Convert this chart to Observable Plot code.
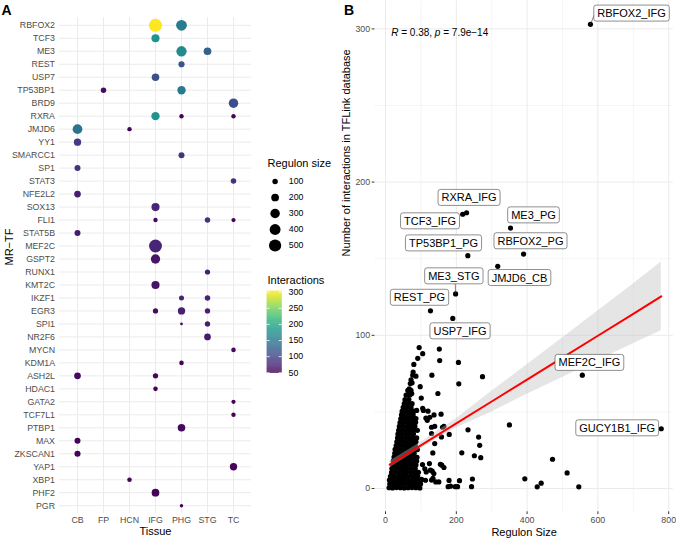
<!DOCTYPE html>
<html><head><meta charset="utf-8">
<script src="https://cdn.jsdelivr.net/npm/d3@7"></script>
<script src="https://cdn.jsdelivr.net/npm/@observablehq/plot@0.6"></script>
<style>
body{margin:0;background:#fff;}
#wrap{position:relative;width:676px;height:538px;overflow:hidden;background:#fff;}
#wrap svg{position:absolute;}
</style></head><body><div id="wrap"></div>
<script>
const FONT = '"Liberation Sans", Arial, Helvetica, sans-serif';

// ---------- Panel A data ----------
const tissues = ["CB","FP","HCN","IFG","PHG","STG","TC"];
const mrTFs = ["RBFOX2","TCF3","ME3","REST","USP7","TP53BP1","BRD9","RXRA","JMJD6","YY1","SMARCC1","SP1","STAT3","NFE2L2","SOX13","FLI1","STAT5B","MEF2C","GSPT2","RUNX1","KMT2C","IKZF1","EGR3","SPI1","NR2F6","MYCN","KDM1A","ASH2L","HDAC1","GATA2","TCF7L1","PTBP1","MAX","ZKSCAN1","YAP1","XBP1","PHF2","PGR"];
// [MR-TF, tissue, regulon size, interactions]
const dotsA = [
  ["RBFOX2","IFG",579,303],["RBFOX2","PHG",390,153],
  ["TCF3","IFG",218,179],
  ["ME3","PHG",353,170],["ME3","STG",198,127],
  ["REST","PHG",127,116],
  ["USP7","IFG",190,111],
  ["TP53BP1","FP",100,56],["TP53BP1","PHG",232,152],
  ["BRD9","TC",300,108],
  ["RXRA","IFG",229,180],["RXRA","PHG",65,50],["RXRA","TC",65,52],
  ["JMJD6","CB",317,145],["JMJD6","HCN",65,50],
  ["YY1","CB",180,92],
  ["SMARCC1","PHG",120,85],
  ["SP1","CB",120,85],
  ["STAT3","TC",100,82],
  ["NFE2L2","CB",150,68],
  ["SOX13","IFG",220,75],
  ["FLI1","IFG",65,55],["FLI1","STG",100,85],["FLI1","TC",60,50],
  ["STAT5B","CB",120,65],
  ["MEF2C","IFG",556,74],
  ["GSPT2","IFG",290,62],
  ["RUNX1","STG",90,70],
  ["KMT2C","IFG",220,60],
  ["IKZF1","PHG",85,72],["IKZF1","STG",100,72],
  ["EGR3","IFG",90,55],["EGR3","PHG",180,70],["EGR3","STG",95,70],
  ["SPI1","PHG",25,55],["SPI1","STG",95,68],
  ["NR2F6","STG",150,65],
  ["MYCN","TC",70,55],
  ["KDM1A","PHG",70,50],
  ["ASH2L","CB",150,55],["ASH2L","IFG",95,52],
  ["HDAC1","IFG",70,50],
  ["GATA2","TC",60,50],
  ["TCF7L1","TC",65,50],
  ["PTBP1","PHG",190,55],
  ["MAX","CB",120,50],
  ["ZKSCAN1","CB",125,50],
  ["YAP1","TC",180,52],
  ["XBP1","HCN",70,50],
  ["PHF2","IFG",200,50],
  ["PGR","PHG",40,50]
];
const sizeBreaks = [100,200,300,400,500];
const colorBreaks = [50,100,150,200,250,300];

// ---------- Panel B data ----------
// labelled points [name, regulon size, interactions]
const labeledB = [
  ["RBFOX2_IFG",579,303],["RXRA_IFG",229,180],["TCF3_IFG",218,179],["ME3_PG",353,170],
  ["TP53BP1_PG",232.5,152],["RBFOX2_PG",390,153],["JMJD6_CB",317,145],["ME3_STG",198,127],
  ["REST_PG",127,116],["USP7_IFG",190,111],["MEF2C_IFG",556,74],["GUCY1B1_IFG",779,39]
];
// repelled label positions [name, x, y]
const labelPosB = [
  ["RBFOX2_IFG",695,310],["RXRA_IFG",236,189.7],["TCF3_IFG",125.7,174.4],["ME3_PG",418,178.3],
  ["TP53BP1_PG",163.8,160],["RBFOX2_PG",409.6,161.4],["JMJD6_CB",378.5,137.4],["ME3_STG",193,138.5],
  ["REST_PG",96,124.5],["USP7_IFG",210.5,102.6],["MEF2C_IFG",576,82],["GUCY1B1_IFG",654.5,39.3]
];
// leader segments [x1, y1, x2, y2]
const leadersB = [[579,303,591,309.8],[198,127,197,133.7]];
// other points [regulon size, interactions]
const scatterB = [
  [95,92],[152,91],[105,88],[91,85],[153,83.5],[206,82.3],[80,81],[131,74],[86,73.3],[274,73],
  [207,68.3],[70,68.5],[98,66.5],[67,65],[74,62],[65,61],[148,62],[101,59],[63,56.5],[88,51],
  [107,51],[120,50.5],[137,48],[157,48.5],[105,52.4],[114,46],[125,46.5],[118,44.5],[139,40.6],[130,40],
  [161,40],[165,40.6],[350,41.5],[233,38.3],[180,35.3],[130,35.9],[158,33.7],[263,33.6],[266,28.2],[139,29.3],
  [215.5,23.3],[251,21.4],[269,20.1],[133.6,23.2],[471.8,19.1],[513,10.2],[393.5,6.3],[439.7,3.5],[428.5,1.1],[546,1.1],
  [245.5,6.2],[243,1.2],[209,5.1],[179.5,5.3],[177,1.2],[197,1.2],[203.5,1.2],[155,15.8],[159,15.2],[165,13.7],
  [124,16.3],[104.5,15.6],[111,12.9],[127,12],[132,11.3],[136.5,9.8],[115,10.8],[134,6.7],[130,5.5],[142,4.3],
  [150.6,4.3],[113,5.4],[102,5.9],[183.6,1.5],[72,71],[77,74],[75,69],[78,76]
];
const massB = [
  [10,0.5],[20,0.4],[31,0.6],[42,0.5],[53,0.4],[64,0.5],[75,0.6],[86,0.5],[97,0.4],
  [12,3],[23,3.1],[34,2.9],[45,3],[56,3.2],[67,3],[78,2.9],[89,3.1],[99,3],
  [11,5.5],[21,5.6],[32,5.4],[43,5.5],[54,5.7],[65,5.5],[76,5.4],[87,5.6],[96,5.5],
  [14,8],[25,8.1],[36,7.9],[47,8],[58,8.2],[69,8],[80,7.9],[91,8.1],
  [17,10.5],[27,10.6],[38,10.4],[49,10.5],[60,10.7],[71,10.5],[82,10.4],[93,10.6],
  [18,13],[29,13.1],[40,12.9],[51,13],[62,13.2],[73,13],[84,12.9],
  [20,15.5],[31,15.6],[42,15.4],[53,15.5],[64,15.7],[75,15.5],[86,15.4],
  [22,18],[33,18.1],[44,17.9],[55,18],[66,18.2],[77,18],[88,17.9],
  [24,20.5],[35,20.6],[46,20.4],[57,20.5],[68,20.7],[79,20.5],[89,20.4],
  [26,23],[37,23.1],[48,22.9],[59,23],[70,23.2],[81,23],
  [27,25.5],[38,25.6],[49,25.4],[60,25.5],[71,25.7],[82,25.5],[90,25.4],
  [30,28],[41,28.1],[52,27.9],[63,28],[74,28.2],[84,28],
  [32,30.5],[43,30.6],[54,30.4],[65,30.5],[76,30.7],[86,30.5],
  [34,33],[45,33.1],[56,32.9],[67,33],[78,33.2],[88,33],
  [35,35.5],[46,35.6],[57,35.4],[68,35.5],[79,35.7],
  [37,38],[48,38.1],[59,37.9],[70,38],[81,38.2],[90,38],
  [39,40.5],[50,40.6],[61,40.4],[72,40.5],[83,40.7],
  [41,43],[52,43.1],[63,42.9],[74,43],[85,43.2],
  [43,45.5],[54,45.6],[65,45.4],[76,45.5],[86,45.7],
  [45,48],[56,48.1],[67,47.9],[78,48],
  [47,50.5],[58,50.6],[69,50.4],[80,50.5],
  [50,53],[61,53.1],[72,52.9],
  [53,55.5],[64,55.6],[75,55.4],
  [55,58],[66,58.1],
  [58,61],[69,61.1],
  [63,64],[72,64.1]
];
// fitted regression line and 95% band
const fitX  = [12, 100, 200, 300, 400, 500, 600, 700, 779];
const fitY  = [15.6, 28.2, 42.5, 56.8, 71.1, 85.4, 99.7, 114, 125.4];
const fitLo = [13.4, 26.2, 39.5, 50, 61.5, 72.5, 83.5, 94.5, 103];
const fitHi = [17.8, 30.2, 45.5, 63.5, 80.7, 98.3, 115.9, 133.5, 147.8];
const corrR = "0.38", corrP = "7.9e−14";
const xTicksB = [0,200,400,600,800], xMinorB = [100,300,500,700];
const yTicksB = [0,100,200,300], yMinorB = [50,150,250];

// ---------- rendering ----------
const wrap = document.getElementById("wrap");
function place(svg, left, top) { svg.style.left = left + "px"; svg.style.top = top + "px"; wrap.appendChild(svg); return svg; }
const baseStyle = {fontFamily: FONT, fontSize: "8.8px", background: "transparent", overflow: "visible", color: "black"};
const colorScale = {type: "sequential", scheme: "viridis", domain: [48, 303]};
const rScale = {type: "sqrt", domain: [0, 600], range: [0, 6.7]};

const recsA = dotsA.map(([tf, tissue, size, inter]) => ({tf, tissue, size, inter}));
const plotA = Plot.plot({
  width: 262, height: 538, marginLeft: 59, marginRight: 11, marginTop: 17, marginBottom: 25,
  style: baseStyle,
  x: {type: "point", domain: tissues, padding: 0.6},
  y: {type: "point", domain: mrTFs, padding: 0.6},
  r: rScale, color: colorScale,
  marks: [
    Plot.gridX({stroke: "#ebebeb", strokeOpacity: 1, strokeWidth: 1}),
    Plot.gridY({stroke: "#ebebeb", strokeOpacity: 1, strokeWidth: 1}),
    Plot.axisX({tickSize: 0, tickPadding: 3, fill: "#4d4d4d", label: null}),
    Plot.axisY({tickSize: 0, tickPadding: 4.5, fill: "#4d4d4d", label: null}),
    Plot.dot(recsA, {x: "tissue", y: "tf", r: "size", fill: "inter"}),
    Plot.text(["Tissue"], {text: d => d, frameAnchor: "bottom", dy: 18, fontSize: 11, fill: "black", lineAnchor: "middle"}),
    Plot.text(["MR−TF"], {text: d => d, frameAnchor: "left", dx: -50, rotate: -90, fontSize: 11, fill: "black", lineAnchor: "middle"}),
    Plot.text(["A"], {text: d => d, frameAnchor: "top-left", dx: -58, dy: -7, fontSize: 14, fontWeight: "bold", textAnchor: "start", lineAnchor: "middle", fill: "black"})
  ]
});
place(plotA, 0, 0);

const legendS = Plot.plot({
  width: 80, height: 105, margin: 0, style: baseStyle,
  x: {domain: [0, 1], range: [16.6, 60], axis: null},
  y: {type: "point", domain: sizeBreaks, range: [30.7, 96.3], padding: 0, axis: null},
  r: rScale,
  marks: [
    Plot.dot(sizeBreaks, {x: 0, y: d => d, r: d => d, fill: "black"}),
    Plot.text(sizeBreaks, {x: 0, y: d => d, dx: 13.7, text: d => String(d), textAnchor: "start", fill: "black"}),
    Plot.text(["Regulon size"], {text: d => d, frameAnchor: "top-left", dx: 9, dy: 12.7, textAnchor: "start", lineAnchor: "middle", fontSize: 11, fill: "black"})
  ]
});
place(legendS, 258, 150);

const ramp = d3.range(48, 303, 1);
const legendC = Plot.plot({
  width: 80, height: 115, margin: 0, style: baseStyle,
  x: {domain: [0, 1], range: [8.7, 23.7], axis: null},
  y: {domain: [48, 303], range: [104.9, 22.7], axis: null},
  color: colorScale,
  marks: [
    Plot.rect(ramp, {x1: 0, x2: 1, y1: d => d, y2: d => Math.min(303, d + 1.3), fill: d => d + 0.5}),
    Plot.ruleY(colorBreaks, {y: d => d, x1: 0, x2: 0.2, stroke: "white", strokeWidth: 0.8}),
    Plot.ruleY(colorBreaks, {y: d => d, x1: 0.8, x2: 1, stroke: "white", strokeWidth: 0.8}),
    Plot.text(colorBreaks, {x: 1, y: d => d, dx: 6.3, text: d => String(d), textAnchor: "start", fill: "black"}),
    Plot.text(["Interactions"], {text: d => d, frameAnchor: "top-left", dx: 9, dy: 12, textAnchor: "start", lineAnchor: "middle", fontSize: 11, fill: "black"})
  ]
});
place(legendC, 258, 268);

const labelRecs = labelPosB.map(([name, x, y]) => ({name, x, y}));
const fitRows = fitX.map((x, i) => ({x, y: fitY[i], lo: fitLo[i], hi: fitHi[i]}));
const pointsB = [...massB, ...scatterB, ...labeledB.map(d => [d[1], d[2]])];
const plotB = Plot.plot({
  width: 338, height: 538, marginLeft: 36.4, marginRight: 3.2, marginTop: 0.5, marginBottom: 26.7,
  style: baseStyle,
  x: {domain: [-30, 813]},
  y: {domain: [-15.2, 318.2]},
  marks: [
    Plot.ruleX(xMinorB, {stroke: "#ebebeb", strokeWidth: 0.5}),
    Plot.ruleY(yMinorB, {stroke: "#ebebeb", strokeWidth: 0.5}),
    Plot.ruleX(xTicksB, {stroke: "#ebebeb", strokeWidth: 1}),
    Plot.ruleY(yTicksB, {stroke: "#ebebeb", strokeWidth: 1}),
    Plot.axisX({ticks: xTicksB, tickSize: 2.75, tickPadding: 2, stroke: "#333", fill: "#4d4d4d", label: null}),
    Plot.axisY({ticks: yTicksB, tickSize: 2.75, tickPadding: 2, stroke: "#333", fill: "#4d4d4d", label: null}),
    Plot.dot(pointsB, {x: d => d[0], y: d => d[1], r: 2.6, fill: "black"}),
    Plot.areaY(fitRows, {x: "x", y1: "lo", y2: "hi", fill: "#bdbdbd", fillOpacity: 0.4}),
    Plot.line(fitRows, {x: "x", y: "y", stroke: "#ff0000", strokeWidth: 2}),
    Plot.link(leadersB, {x1: d => d[0], y1: d => d[1], x2: d => d[2], y2: d => d[3], stroke: "#333", strokeWidth: 0.6}),
    Plot.text(labelRecs, {x: "x", y: "y", text: "name", fontSize: 11, fill: "black"}),
    Plot.text([corrR], {text: d => `R = ${d}, p = ${corrP}`, frameAnchor: "top-left", dx: 16.3, dy: 31.8, textAnchor: "start", lineAnchor: "middle", fontSize: 10, fill: "black"}),
    Plot.text(["Regulon Size"], {text: d => d, frameAnchor: "bottom", dy: 20.4, fontSize: 11, fill: "black", lineAnchor: "middle"}),
    Plot.text(["Number of interactions in TFLink database"], {text: d => d, frameAnchor: "left", dx: -28, rotate: -90, fontSize: 11, fill: "black", lineAnchor: "middle"}),
    Plot.text(["B"], {text: d => d, frameAnchor: "top-left", dx: -31, dy: 10, fontSize: 14, fontWeight: "bold", textAnchor: "start", lineAnchor: "middle", fill: "black"})
  ]
});
place(plotB, 338, 0);

// label boxes (ggrepel-style) and italic R / p, found by their text
const NS = "http://www.w3.org/2000/svg";
const labelNames = new Set(labelPosB.map(d => d[0]));
const allTexts = Array.from(plotB.querySelectorAll("text"));
allTexts.filter(t => labelNames.has(t.textContent)).forEach(t => {
  const bb = t.getBBox();
  const rect = document.createElementNS(NS, "rect");
  rect.setAttribute("x", bb.x - 3.5);
  rect.setAttribute("y", bb.y - 2);
  rect.setAttribute("width", bb.width + 7);
  rect.setAttribute("height", bb.height + 4);
  rect.setAttribute("rx", 2.4);
  rect.setAttribute("fill", "white");
  rect.setAttribute("stroke", "#444");
  rect.setAttribute("stroke-width", 0.6);
  const tr = t.getAttribute("transform");
  if (tr) rect.setAttribute("transform", tr);
  t.parentNode.insertBefore(rect, t);
});
allTexts.filter(t => t.textContent.startsWith("R = ")).forEach(t => {
  const parts = [["R", true], [" = " + corrR + ", ", false], ["p", true], [" = " + corrP, false]];
  t.textContent = "";
  for (const [s, it] of parts) {
    const ts = document.createElementNS(NS, "tspan");
    ts.textContent = s;
    if (it) ts.setAttribute("font-style", "italic");
    t.appendChild(ts);
  }
});
</script></body></html>
